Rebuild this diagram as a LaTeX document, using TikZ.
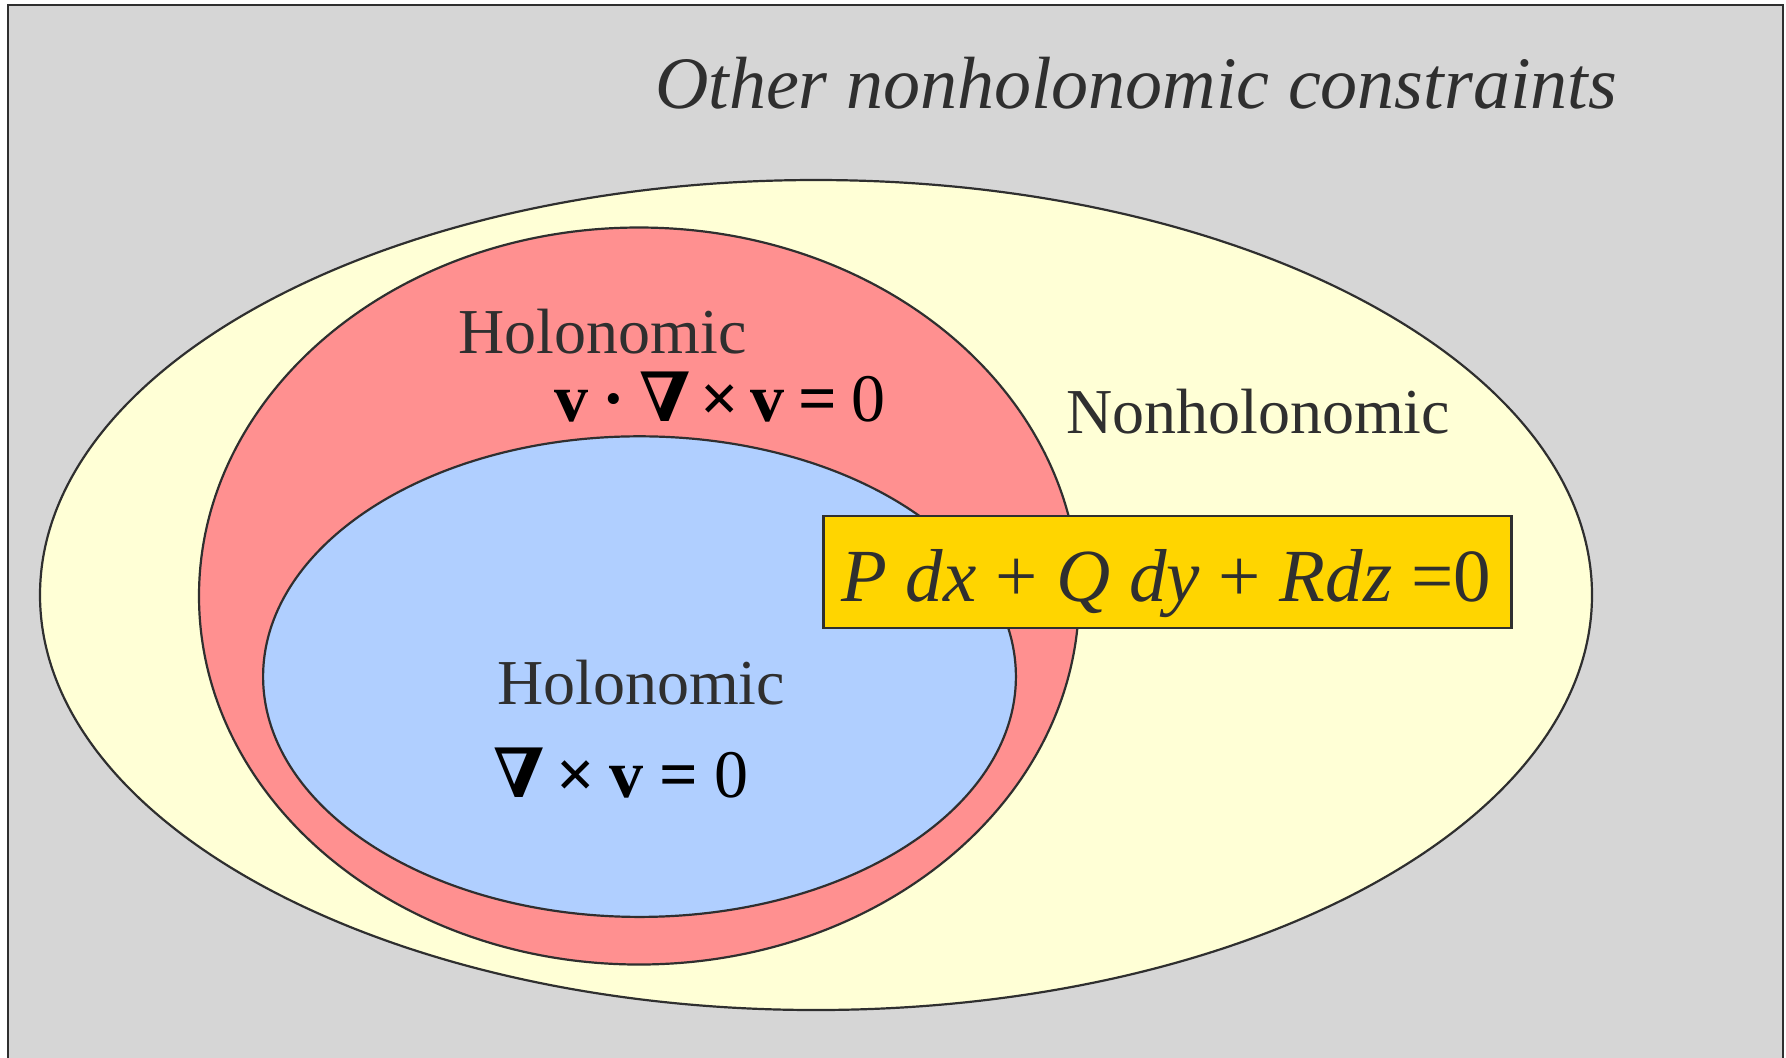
\documentclass[tikz,border=0pt]{standalone}
\usepackage{fontspec}
\setmainfont{Liberation Serif}
\newfontfamily\symfont{DejaVu Serif}
\definecolor{bggray}{HTML}{D6D6D6}
\definecolor{outeryellow}{HTML}{FFFFD6}
\definecolor{holred}{HTML}{FF9090}
\definecolor{holblue}{HTML}{B0CFFF}
\definecolor{boxgold}{HTML}{FFD500}
\definecolor{ink}{HTML}{2F2F2F}
\tikzset{
  region/.style={draw=ink, line width=1.1pt},
  lbl/.style={text=ink, inner sep=0pt, anchor=base},
  eqn/.style={text=black, inner sep=0pt, anchor=base},
}
\newcommand{\nab}{{\symfont\bfseries ∇}}
\begin{document}
\begin{tikzpicture}[x=0.5pt,y=-0.5pt]
\useasboundingbox (0,0) rectangle (1786,1057);
\fill[white] (0,0) rectangle (1786,1057);
\begin{scope}
\clip (0,0) rectangle (1786,1057);
\filldraw[fill=bggray, draw=ink, line width=1.4pt] (8,5) rectangle (1783,1100);
\end{scope}
% regions
\filldraw[region, fill=outeryellow] (816,595) ellipse [x radius=776, y radius=415];
\filldraw[region, fill=holred] (639,596) ellipse [x radius=440, y radius=368.5];
\filldraw[region, fill=holblue] (639.5,676.6) ellipse [x radius=376.4, y radius=240.3];
% labels
\node[lbl, font=\fontsize{37}{44}\selectfont\itshape] (other) at (1136,108) {Other nonholonomic constraints};
\node[lbl, font=\fontsize{32}{38}\selectfont] (holA) at (602.5,353) {Holonomic};
\node[eqn, font=\fontsize{34}{40}\selectfont] (eqA) at (720,421) {\textbf{v}\kern7pt\textbf{·}\kern7pt\nab\kern5pt\textbf{×}\kern6pt\textbf{v}\kern7pt\textbf{=}\kern7pt0};
\node[lbl, font=\fontsize{32}{38}\selectfont] (nonhol) at (1258,433) {Nonholonomic};
\node[lbl, font=\fontsize{32}{38}\selectfont] (holB) at (641,704) {Holonomic};
\node[eqn, font=\fontsize{34}{40}\selectfont] (eqB) at (621,797) {\nab\kern6pt\textbf{×}\kern7pt\textbf{v}\kern8pt\textbf{=}\kern8pt0};
% Pfaffian box
\node[draw=ink, line width=1.2pt, fill=boxgold, minimum width=688pt/2, minimum height=111.6pt/2, inner sep=0pt] (pfaff) at (1167.5,572) {};
\node[lbl, font=\fontsize{37.5}{44}\selectfont] (pfafftext) at (1166,601) {\textit{P dx} + \textit{Q dy} + \textit{Rdz} =0};
\end{tikzpicture}
\end{document}
